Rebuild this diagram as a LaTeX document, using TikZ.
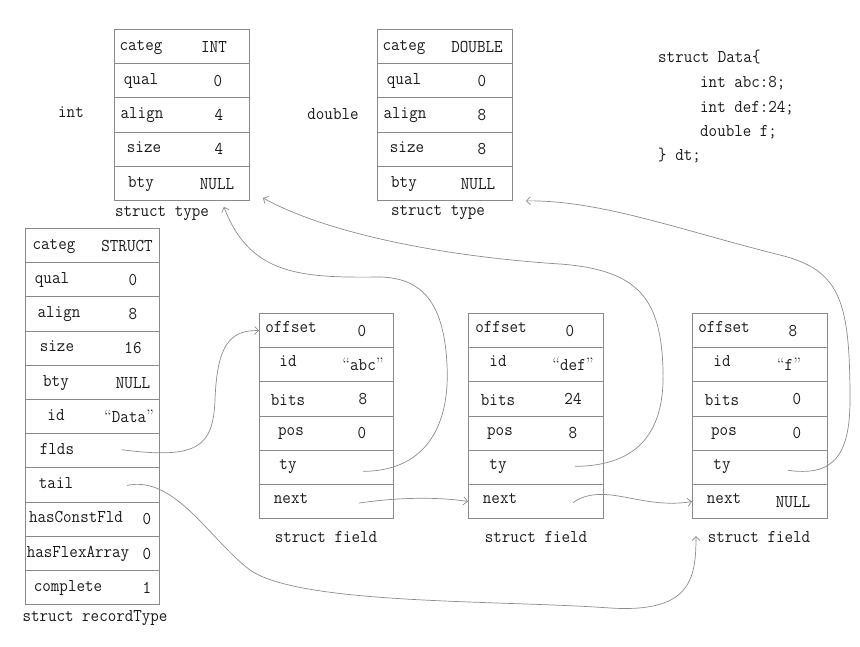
\documentclass[tikz,border=0pt]{standalone}
\usepackage{fontspec}
\setmonofont{Latin Modern Mono}[FakeStretch=0.92]
\usetikzlibrary{arrows.meta,calc}
\definecolor{boxgray}{HTML}{8A8A8A}
\definecolor{linkgray}{HTML}{8C8C8C}
\definecolor{txt}{HTML}{1A1A1A}
\newcommand\mytt{\ttfamily\fontsize{18}{21}\selectfont}
\newcommand\myoq{{\rmfamily “}}
\newcommand\mycq{{\rmfamily ”}}
\newcommand\mkrow[9]{%
  \node[cellbox,minimum width=#4pt] (#1) at (#2,#3) {};
  \node[celltxt] (#1l) at ($(#1.west)+(#6,#9)$) {#5};
  \node[celltxt] (#1v) at ($(#1.west)+(#8,3.5)$) {#7};
}
\tikzset{
  cellbox/.style={draw=boxgray, line width=0.9pt, minimum height=34.2pt, inner sep=0pt, anchor=north west},
  celltxt/.style={inner sep=0pt, anchor=mid, font=\mytt, text=txt},
  plaintxt/.style={inner sep=0pt, anchor=mid, font=\mytt, text=txt},
  codetxt/.style={inner sep=0pt, anchor=mid west, font=\mytt, text=txt},
  link/.style={draw=linkgray, line width=0.7pt, -{Straight Barb[length=4pt,width=8pt]}},
}
\begin{document}
\begin{tikzpicture}[x=1pt,y=-1pt]
\useasboundingbox (0,0) rectangle (860,647);

% ---- struct type (int)
\mkrow{ta1}{114}{29}{135}{categ}{27}{INT}{100}{1.5}
\mkrow{ta2}{114}{63.2}{135}{qual}{27}{0}{104}{1.5}
\mkrow{ta3}{114}{97.4}{135}{align}{28}{4}{105}{1.5}
\mkrow{ta4}{114}{131.6}{135}{size}{30}{4}{105}{1.5}
\mkrow{ta5}{114}{165.8}{135}{bty}{27}{NULL}{103}{1.5}
\node[plaintxt] (intlbl) at (71,115) {int};
\node[plaintxt] (tacap) at (162,214) {struct type};

% ---- struct type (double)
\mkrow{tb1}{377}{29}{135}{categ}{27}{DOUBLE}{100}{1.5}
\mkrow{tb2}{377}{63.2}{135}{qual}{27}{0}{105}{1.5}
\mkrow{tb3}{377}{97.4}{135}{align}{28}{8}{105}{1.5}
\mkrow{tb4}{377}{131.6}{135}{size}{30}{8}{105}{1.5}
\mkrow{tb5}{377}{165.8}{135}{bty}{27}{NULL}{101}{1.5}
\node[plaintxt] (dbllbl) at (333,117) {double};
\node[plaintxt] (tbcap) at (438,213) {struct type};

% ---- code
\node[codetxt] (c1) at (658,60) {struct Data\{};
\node[codetxt] (c2) at (700,85) {int abc:8;};
\node[codetxt] (c3) at (700,110) {int def:24;};
\node[codetxt] (c4) at (700,134) {double f;};
\node[codetxt] (c5) at (658,158) {\} dt;};

% ---- struct recordType
\mkrow{r1}{25}{228}{134}{categ}{29}{STRUCT}{102}{1.5}
\mkrow{r2}{25}{262.2}{134}{qual}{27}{0}{108}{1.5}
\mkrow{r3}{25}{296.4}{134}{align}{34}{8}{108}{1.5}
\mkrow{r4}{25}{330.6}{134}{size}{32}{16}{108}{1.5}
\mkrow{r5}{25}{364.8}{134}{bty}{31}{NULL}{108}{1.5}
\mkrow{r6}{25}{399}{134}{id}{31}{\myoq Data\mycq}{104}{1.5}
\mkrow{r7}{25}{433.2}{134}{flds}{32}{}{108}{1.5}
\mkrow{r8}{25}{467.4}{134}{tail}{31}{}{108}{1.5}
\mkrow{r9}{25}{501.6}{134}{hasConstFld}{51}{0}{122}{1.5}
\mkrow{r10}{25}{535.8}{134}{hasFlexArray}{53}{0}{122}{1.5}
\mkrow{r11}{25}{570}{134}{complete}{43}{1}{122}{1.5}
\node[plaintxt] (rcap) at (95,619) {struct recordType};

% ---- struct field abc
\mkrow{fa1}{259}{313}{134}{offset}{32}{0}{103}{0}
\mkrow{fa2}{259}{347.2}{134}{id}{29}{\myoq abc\mycq}{104}{0}
\mkrow{fa3}{259}{381.4}{134}{bits}{29}{8}{104}{4}
\mkrow{fa4}{259}{415.6}{134}{pos}{32}{0}{103}{0}
\mkrow{fa5}{259}{449.8}{134}{ty}{29}{}{103}{0}
\mkrow{fa6}{259}{484}{134}{next}{32}{}{103}{0}
\node[plaintxt] (facap) at (326,540) {struct field};

% ---- struct field def
\mkrow{fb1}{468}{313}{135}{offset}{33}{0}{102}{0}
\mkrow{fb2}{468}{347.2}{135}{id}{30}{\myoq def\mycq}{105}{0}
\mkrow{fb3}{468}{381.4}{135}{bits}{30}{24}{105}{4}
\mkrow{fb4}{468}{415.6}{135}{pos}{32}{8}{105}{0}
\mkrow{fb5}{468}{449.8}{135}{ty}{30}{}{105}{0}
\mkrow{fb6}{468}{484}{135}{next}{32}{}{105}{0}
\node[plaintxt] (fbcap) at (536,540) {struct field};

% ---- struct field f
\mkrow{fc1}{692}{313}{135}{offset}{32}{8}{101}{0}
\mkrow{fc2}{692}{347.2}{135}{id}{30}{\myoq f\mycq}{97}{0}
\mkrow{fc3}{692}{381.4}{135}{bits}{30}{0}{105}{4}
\mkrow{fc4}{692}{415.6}{135}{pos}{32}{0}{105}{0}
\mkrow{fc5}{692}{449.8}{135}{ty}{30}{}{105}{0}
\mkrow{fc6}{692}{484}{135}{next}{32}{NULL}{101}{0}
\node[plaintxt] (fccap) at (759,540) {struct field};

% ---- connector end points
\coordinate (fldsS) at ($(r7.west)+(97,-1)$);
\coordinate (tailS) at ($(r8.west)+(102,0.5)$);
\coordinate (tyaS) at ($(fa5.west)+(104,4)$);
\coordinate (tybS) at ($(fb5.west)+(107,-1)$);
\coordinate (tycS) at ($(fc5.west)+(96,3)$);
\coordinate (nxaS) at ($(fa6.west)+(100,1.5)$);
\coordinate (nxbS) at ($(fb6.west)+(105,1)$);
\coordinate (tyaE) at ($(ta5.south east)+(-26,6)$);
\coordinate (tybE) at ($(ta5.south east)+(13,-3)$);
\coordinate (tycE) at ($(tb5.south east)+(13,0)$);
\coordinate (tailE) at ($(fc6.south west)+(4,17)$);

% ---- connectors
\draw[link] (fldsS) .. controls (200,460) and (213,445) .. (215,400)
  .. controls (217,345) and (230,330) .. (fa1.west);
\draw[link] (tailS) .. controls (175,475) and (210,540) .. (250,570)
  .. controls (300,605) and (500,600) .. (610,608)
  .. controls (690,613) and (696,580) .. (tailE);
\draw[link] (nxaS) .. controls (400,497) and (440,497) .. (fb6.west);
\draw[link] (nxbS) .. controls (605,481) and (640,510) .. (fc6.west);
\draw[link] (tyaS) .. controls (430,471) and (450,420) .. (447,365)
  .. controls (444,300) and (420,278) .. (380,277)
  .. controls (300,278) and (250,275) .. (tyaE);
\draw[link] (tybS) .. controls (640,466) and (665,430) .. (663,370)
  .. controls (661,300) and (640,270) .. (560,264)
  .. controls (450,257) and (330,235) .. (tybE);
\draw[link] (tycS) .. controls (830,476) and (850,460) .. (850,400)
  .. controls (850,300) and (840,270) .. (780,255)
  .. controls (680,230) and (600,200) .. (tycE);
\end{tikzpicture}
\end{document}
